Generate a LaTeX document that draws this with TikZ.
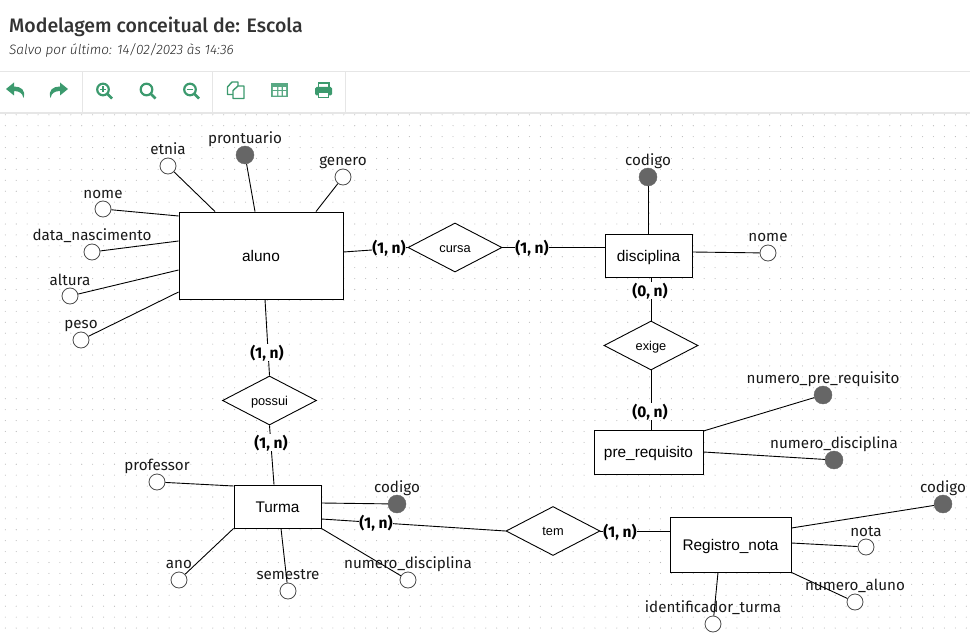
\documentclass[tikz,border=0pt]{standalone}
\usepackage{fontspec}
\setmainfont{Fira Sans}
\newfontfamily\boxfont{Liberation Sans}
\newfontfamily\titlefont{Fira Sans Medium}
\newfontfamily\savedfont{Fira Sans Light}
\usetikzlibrary{shapes.geometric}
\definecolor{toolgreen}{HTML}{3C9A6E}
\definecolor{headgray}{HTML}{333333}
\definecolor{rulegray}{HTML}{E6E6E6}
\definecolor{keygray}{HTML}{666666}
\tikzstyle{entity} = [rectangle, draw=black, line width=0.9pt, fill=white, text centered, inner sep=0pt, text height=11pt, text depth=0pt, font=\boxfont\fontsize{15.4}{17}\selectfont]
\tikzstyle{relation} = [diamond, aspect=1.9, draw=black, line width=0.9pt, fill=white, inner sep=0pt, minimum width=94pt, minimum height=49pt, text height=9pt, text depth=0pt, font=\boxfont\fontsize{12.8}{14}\selectfont]
\tikzstyle{attrib} = [circle, draw=black!70, line width=0.8pt, fill=white, inner sep=0pt, minimum size=16pt]
\tikzstyle{keyattrib} = [circle, draw=keygray, fill=keygray, inner sep=0pt, minimum size=18pt]
\tikzstyle{attrlabel} = [anchor=base, inner sep=0pt, text=black!90, font=\fontsize{15.2}{17}\selectfont]
\tikzstyle{card} = [anchor=base, fill=white, inner sep=0.5pt, font=\bfseries\fontsize{15.5}{17}\selectfont]
\tikzstyle{link} = [draw=black, line width=0.9pt]
\tikzstyle{toolicon} = [toolgreen, line width=2.2pt]
\newcommand{\magnifier}[1]{
	\draw[toolicon] (#1, 89.5) circle (5.8);
	\draw[toolicon, line width=2.8pt] (#1+4, 93.5) -- (#1+9, 98.5);
}

\begin{document}
\begin{tikzpicture}[x=1pt, y=-1pt]
	\useasboundingbox (0, 0) rectangle (970, 634);
	% page head
	\node (title) at (9, 32.5) [anchor=base west, inner sep=0pt, text=headgray, font=\titlefont\fontsize{19.5}{24}\selectfont] {Modelagem conceitual de: Escola};
	\node (saved) at (9, 55) [anchor=base west, inner sep=0pt, text=black!85, font=\savedfont\itshape\fontsize{13.6}{16}\selectfont] {Salvo por último: 14/02/2023 às 14:36};
	\draw[rulegray] (0, 71.5) -- (970, 71.5);
	\draw[rulegray, line width=2pt] (0, 113) -- (970, 113);
	\foreach \sepx in {82.5, 212.5, 345.5} {
		\draw[rulegray] (\sepx, 72) -- (\sepx, 112);
	}
	% dots
	\foreach \dotx in {0,...,88} {
		\foreach \doty in {0,...,47} {
			\fill[black!28] (5.3 + 10.92*\dotx, 114.8 + 10.92*\doty) circle (0.55);
		}
	}
	% toolbar
	\fill[toolgreen] (6, 89) -- (14, 82.5) -- (14, 86.5) .. controls (21, 86.5) and (26, 90) .. (23.5, 98) .. controls (22.5, 93) and (19, 91) .. (14, 91) -- (14, 95.5) -- cycle;
	\fill[toolgreen] (68, 89) -- (60, 82.5) -- (60, 86.5) .. controls (53, 86.5) and (48, 90) .. (50.5, 98) .. controls (51.5, 93) and (55, 91) .. (60, 91) -- (60, 95.5) -- cycle;
	\magnifier{103}
	\draw[toolgreen, line width=1.5pt] (100, 89.5) -- (106, 89.5) (103, 86.5) -- (103, 92.5);
	\magnifier{146.5}
	\magnifier{190}
	\draw[toolgreen, line width=1.5pt] (187, 89.5) -- (193, 89.5);
	\draw[toolgreen, line width=1.4pt, line join=round] (233, 94.5) -- (227.5, 94.5) -- (227.5, 87) -- (232, 82) -- (238, 82) -- (238, 86);
	\draw[toolgreen, line width=1.4pt, fill=white, line join=round] (233, 98.5) -- (233, 90.5) -- (238, 86) -- (244, 86) -- (244, 98.5) -- cycle;
	\fill[toolgreen!85] (271, 83) rectangle (288, 97);
	\fill[white] (272.8, 87.2) rectangle (277, 90) (278.4, 87.2) rectangle (281.6, 90) (283, 87.2) rectangle (286.2, 90)
		(272.8, 91.2) rectangle (277, 95.6) (278.4, 91.2) rectangle (281.6, 95.6) (283, 91.2) rectangle (286.2, 95.6);
	\fill[toolgreen, rounded corners=1.5pt] (315, 87) rectangle (332, 95.5);
	\draw[toolgreen, line width=1.4pt] (318.5, 87) -- (318.5, 83) -- (329, 83) -- (329, 87);
	\draw[toolgreen, line width=1.4pt, fill=white] (318.5, 92.5) rectangle (328.5, 97.5);
	% entities and relations
	\node (aluno) at (261, 255.5) [entity, minimum width=164pt, minimum height=87pt] {aluno};
	\node (disciplina) at (648.5, 255.5) [entity, minimum width=87pt, minimum height=43pt] {disciplina};
	\node (prerequisito) at (648.5, 452) [entity, minimum width=109pt, minimum height=44pt] {pre\_requisito};
	\node (turma) at (277.5, 506.5) [entity, minimum width=87pt, minimum height=43pt] {Turma};
	\node (registro) at (730.5, 544.5) [entity, minimum width=121pt, minimum height=55pt] {Registro\_nota};
	\node (cursa) at (455, 247.5) [relation] {cursa};
	\node (exige) at (651, 345.5) [relation] {exige};
	\node (possui) at (269.5, 400.5) [relation] {possui};
	\node (tem) at (553, 531) [relation] {tem};
	% attributes of aluno
	\node (etnia) at (168, 166) [attrib] {};
	\node (prontuario) at (245, 155) [keyattrib] {};
	\node (genero) at (343, 177) [attrib] {};
	\node (nome) at (103, 209) [attrib] {};
	\node (nascimento) at (92, 252) [attrib] {};
	\node (altura) at (70, 296) [attrib] {};
	\node (peso) at (81, 340) [attrib] {};
	\node (etniaLabel) at (168, 154) [attrlabel] {etnia};
	\node (prontuarioLabel) at (245, 143) [attrlabel] {prontuario};
	\node (generoLabel) at (343, 165) [attrlabel] {genero};
	\node (nomeLabel) at (103, 198) [attrlabel] {nome};
	\node (nascimentoLabel) at (92, 240) [attrlabel] {data\_nascimento};
	\node (alturaLabel) at (70, 285) [attrlabel] {altura};
	\node (pesoLabel) at (81, 328) [attrlabel] {peso};
	% attributes of disciplina and pre_requisito
	\node (codigoDisc) at (648, 177) [keyattrib] {};
	\node (nomeDisc) at (768, 253) [attrib] {};
	\node (numPre) at (823, 395) [keyattrib] {};
	\node (numDisc) at (834, 460) [keyattrib] {};
	\node (codigoDiscLabel) at (648, 165) [attrlabel] {codigo};
	\node (nomeDiscLabel) at (768, 241) [attrlabel] {nome};
	\node (numPreLabel) at (823, 383) [attrlabel] {numero\_pre\_requisito};
	\node (numDiscLabel) at (834, 448) [attrlabel] {numero\_disciplina};
	% attributes of Turma
	\node (professor) at (157, 482) [attrib] {};
	\node (ano) at (179, 580) [attrib] {};
	\node (semestre) at (288, 591) [attrib] {};
	\node (numTurma) at (408, 580) [attrib] {};
	\node (codigoTurma) at (397, 504) [keyattrib] {};
	\node (professorLabel) at (157, 470) [attrlabel] {professor};
	\node (anoLabel) at (179, 568) [attrlabel] {ano};
	\node (semestreLabel) at (288, 579) [attrlabel] {semestre};
	\node (numTurmaLabel) at (408, 568) [attrlabel] {numero\_disciplina};
	\node (codigoTurmaLabel) at (397, 492) [attrlabel] {codigo};
	% attributes of Registro_nota
	\node (codigoReg) at (943, 504) [keyattrib] {};
	\node (nota) at (866, 547) [attrib] {};
	\node (numAluno) at (855, 602) [attrib] {};
	\node (identificador) at (713, 624) [attrib] {};
	\node (codigoRegLabel) at (943, 492) [attrlabel] {codigo};
	\node (notaLabel) at (866, 536) [attrlabel] {nota};
	\node (numAlunoLabel) at (855, 590) [attrlabel] {numero\_aluno};
	\node (identificadorLabel) at (713, 612) [attrlabel] {identificador\_turma};
	% connectors
	\draw[link] (etnia) -- (aluno.north -| 215, 0);
	\draw[link] (prontuario) -- (aluno.north -| 255, 0);
	\draw[link] (genero) -- (aluno.north -| 316, 0);
	\draw[link] (nome) -- (aluno.west |- 0, 216);
	\draw[link] (nascimento) -- (aluno.west |- 0, 241);
	\draw[link] (altura) -- (aluno.west |- 0, 270);
	\draw[link] (peso) -- (aluno.west |- 0, 292);
	\draw[link] (aluno.east |- 0, 252) -- (cursa.west);
	\draw[link] (cursa.east) -- (disciplina.west |- cursa.east);
	\draw[link] (codigoDisc) -- (disciplina.north -| codigoDisc);
	\draw[link] (nomeDisc) -- (disciplina.east |- 0, 252);
	\draw[link] (disciplina.south -| exige.north) -- (exige.north);
	\draw[link] (exige.south) -- (prerequisito.north -| exige.south);
	\draw[link] (numPre) -- (prerequisito.east |- 0, 431);
	\draw[link] (numDisc) -- (prerequisito.east |- 0, 452);
	\draw[link] (aluno.south -| 265, 0) -- (possui.north);
	\draw[link] (possui.south) -- (turma.north -| 274, 0);
	\draw[link] (professor) -- (turma.west |- 0, 486);
	\draw[link] (ano) -- (turma.south west);
	\draw[link] (semestre) -- (turma.south -| 281, 0);
	\draw[link] (numTurma) -- (turma.south east);
	\draw[link] (codigoTurma) -- (turma.east |- 0, 503);
	\draw[link] (turma.east |- 0, 519) -- (tem.west);
	\draw[link] (tem.east) -- (registro.west |- tem.east);
	\draw[link] (codigoReg) -- (registro.east |- 0, 528);
	\draw[link] (nota) -- (registro.east |- 0, 543);
	\draw[link] (numAluno) -- (registro.south east);
	\draw[link] (identificador) -- (registro.south -| 718, 0);
	% cardinalities
	\node (cardA) at (389, 253) [card] {(1, n)};
	\node (cardB) at (532, 253) [card] {(1, n)};
	\node (cardC) at (650, 296) [card] {(0, n)};
	\node (cardD) at (650, 417) [card] {(0, n)};
	\node (cardE) at (267, 358) [card] {(1, n)};
	\node (cardF) at (271, 448) [card] {(1, n)};
	\node (cardG) at (376, 528) [card] {(1, n)};
	\node (cardH) at (620, 537) [card] {(1, n)};
\end{tikzpicture}
\end{document}
